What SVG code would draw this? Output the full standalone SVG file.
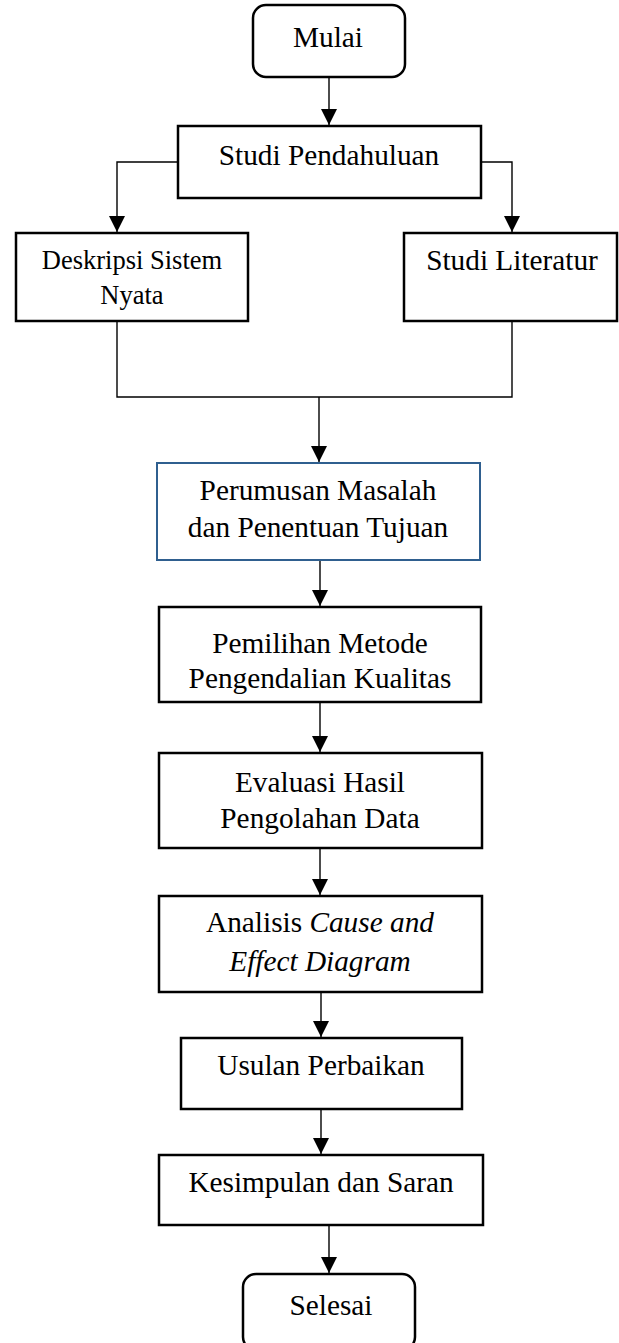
<svg xmlns="http://www.w3.org/2000/svg" width="619" height="1343" viewBox="0 0 619 1343">
<style>
.box{fill:#fff;stroke:#000;stroke-width:2.5}
.blue{fill:#fff;stroke:#2F5F8F;stroke-width:2}
.t{font-family:"Liberation Serif","Times New Roman",serif;font-size:29.3px;fill:#000;text-anchor:middle}
.s{font-size:26.5px}
.i{font-style:italic}
.c{fill:none;stroke:#000;stroke-width:1.4}
</style>
<defs>
<marker id="ah" markerUnits="userSpaceOnUse" markerWidth="16" markerHeight="16" refX="16" refY="8" orient="auto">
<path d="M0,0 L16,8 L0,16 z" fill="#000"/>
</marker>
</defs>
<rect width="619" height="1343" fill="#fff"/>
<g id="connectors">
<path class="c" d="M329,77 V125" marker-end="url(#ah)"/>
<path class="c" d="M178,162 H117 V232" marker-end="url(#ah)"/>
<path class="c" d="M481,162 H512 V232" marker-end="url(#ah)"/>
<path class="c" d="M117,321 V397 H512 V321"/>
<path class="c" d="M319,397 V462" marker-end="url(#ah)"/>
<path class="c" d="M320,560 V606" marker-end="url(#ah)"/>
<path class="c" d="M320,702 V752" marker-end="url(#ah)"/>
<path class="c" d="M320,848 V895" marker-end="url(#ah)"/>
<path class="c" d="M321,992 V1037" marker-end="url(#ah)"/>
<path class="c" d="M321,1108 V1154" marker-end="url(#ah)"/>
<path class="c" d="M329,1225 V1273" marker-end="url(#ah)"/>
</g>
<g id="mulai">
<rect class="box" x="253" y="5" width="152" height="72" rx="13"/>
<text class="t" x="328" y="47">Mulai</text>
</g>
<g id="studi-pendahuluan">
<rect class="box" x="178" y="126" width="303" height="72"/>
<text class="t" x="329" y="165">Studi Pendahuluan</text>
</g>
<g id="deskripsi">
<rect class="box" x="16" y="233" width="232" height="88"/>
<text class="t s" x="132" y="269">Deskripsi Sistem</text>
<text class="t s" x="132" y="304">Nyata</text>
</g>
<g id="studi-literatur">
<rect class="box" x="404" y="233" width="213" height="88"/>
<text class="t" x="512" y="270">Studi Literatur</text>
</g>
<g id="perumusan">
<rect class="blue" x="157" y="463" width="323" height="97"/>
<text class="t" x="318" y="500">Perumusan Masalah</text>
<text class="t" x="318" y="537">dan Penentuan Tujuan</text>
</g>
<g id="pemilihan">
<rect class="box" x="159" y="607" width="322" height="95"/>
<text class="t" x="320" y="653">Pemilihan Metode</text>
<text class="t" x="320" y="688">Pengendalian Kualitas</text>
</g>
<g id="evaluasi">
<rect class="box" x="159" y="753" width="323" height="95"/>
<text class="t" x="320" y="792">Evaluasi Hasil</text>
<text class="t" x="320" y="828">Pengolahan Data</text>
</g>
<g id="analisis">
<rect class="box" x="159" y="896" width="323" height="96"/>
<text class="t" x="320" y="932">Analisis <tspan class="i">Cause and</tspan></text>
<text class="t i" x="320" y="971">Effect Diagram</text>
</g>
<g id="usulan">
<rect class="box" x="181" y="1038" width="281" height="71"/>
<text class="t" x="321" y="1075">Usulan Perbaikan</text>
</g>
<g id="kesimpulan">
<rect class="box" x="159" y="1155" width="324" height="70"/>
<text class="t" x="321" y="1192">Kesimpulan dan Saran</text>
</g>
<g id="selesai">
<rect class="box" x="243" y="1274" width="172" height="76" rx="13"/>
<text class="t" x="331" y="1315">Selesai</text>
</g>
</svg>
